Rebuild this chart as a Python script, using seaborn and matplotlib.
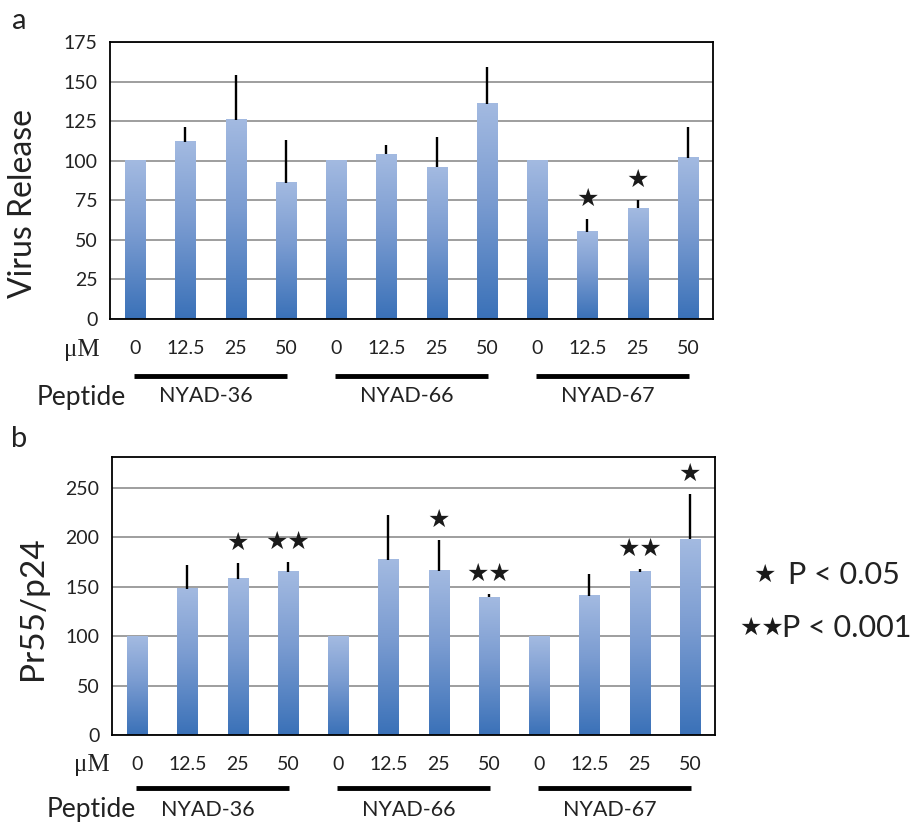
import numpy as np
import pandas as pd
import matplotlib
matplotlib.use("Agg")
import matplotlib.pyplot as plt
import matplotlib.transforms as mtransforms
from matplotlib.colors import LinearSegmentedColormap
import seaborn as sns

# ---- data ----
doses = ["0", "12.5", "25", "50"] * 3
peptides = ["NYAD-36", "NYAD-66", "NYAD-67"]

release_mean = [100, 112, 126, 86, 100, 104, 96, 136, 100, 55, 70, 102]
release_err = [0, 9, 28, 27, 0, 6, 19, 23, 0, 8, 5, 19]
release_sig = ["", "", "", "", "", "", "", "", "", "★", "★", ""]

ratio_mean = [100, 148, 158, 165, 100, 177, 166, 139, 100, 141, 165, 198]
ratio_err = [0, 24, 16, 10, 0, 45, 31, 4, 0, 22, 3, 46]
ratio_sig = ["", "", "★", "★★", "", "", "★", "★★", "", "", "★★", "★"]

sns.set_style("white")
plt.rcParams["font.family"] = ["Lato", "DejaVu Sans"]

W, H = 921, 823
fig = plt.figure(figsize=(W / 100, H / 100), dpi=100)

bar_cmap = LinearSegmentedColormap.from_list(
    "bar", [(0.0, "#3A71B8"), (0.55, "#7B9CD1"), (1.0, "#A3BAE1")])
grad = np.linspace(0, 1, 256).reshape(-1, 1)

INK = "#222222"
STAR = "#1a1a1a"


def px_axes(left, top, right, bottom):
    return fig.add_axes([left / W, 1 - bottom / H, (right - left) / W, (bottom - top) / H])


def fig_text(x, y, s, **kw):
    fig.text(x / W, 1 - y / H, s, **kw)


def panel(ax, mean, err, sig, ylim, yticks, dy_lab, dy_line, dy_pep):
    df = pd.DataFrame({"pos": np.arange(len(mean)), "value": mean})
    sns.barplot(data=df, x="pos", y="value", width=0.4, color="#6F93CC",
                errorbar=None, ax=ax, zorder=2)
    centers = []
    for p in ax.patches:
        x0, w, h = p.get_x(), p.get_width(), p.get_height()
        ax.imshow(grad, extent=[x0, x0 + w, 0, h], origin="lower", aspect="auto",
                  cmap=bar_cmap, interpolation="bicubic", zorder=2)
        p.set_visible(False)
        centers.append(x0 + w / 2)
    centers = np.array(centers)
    mean = np.asarray(mean, float)
    err = np.asarray(err, float)
    has = err > 0
    ax.vlines(centers[has], mean[has], mean[has] + err[has], color="black",
              lw=1.7, zorder=3)
    for c, m, e, s in zip(centers, mean, err, sig):
        if s:
            ax.annotate(s, xy=(c, m + e), xytext=(0, 20), textcoords="offset pixels",
                        ha="center", va="center", fontsize=18, color=STAR,
                        family="DejaVu Sans")

    ax.set_xlim(-0.5, len(mean) - 0.5)
    ax.set_ylim(*ylim)
    ax.set_yticks(yticks)
    ax.set_yticklabels([str(t) for t in yticks], fontsize=14, color=INK)
    ax.yaxis.grid(True, color="#8e8e8e", lw=1.2, zorder=0)
    ax.set_axisbelow(True)
    ax.set_xticks(np.arange(-0.5, len(mean), 1.0))
    ax.set_xticklabels([])
    ax.tick_params(axis="x", direction="out", length=6, width=1, color="#9a9a9a", pad=2)
    ax.tick_params(axis="y", direction="out", length=6, width=1, color="#9a9a9a", pad=3)
    ax.set_xlabel("")
    ax.set_ylabel("")
    for sp in ax.spines.values():
        sp.set_visible(True)
        sp.set_color("black")
        sp.set_linewidth(1.3)

    xtr = ax.get_xaxis_transform()
    lab_tr = mtransforms.offset_copy(xtr, fig=fig, y=-dy_lab, units="dots")
    line_tr = mtransforms.offset_copy(xtr, fig=fig, y=-dy_line, units="dots")
    pep_tr = mtransforms.offset_copy(xtr, fig=fig, y=-dy_pep, units="dots")
    for c, d in zip(centers, doses):
        ax.text(c, 0, d, transform=lab_tr, ha="center", va="center",
                fontsize=14, color=INK)
    for g, name in enumerate(peptides):
        a, b = centers[4 * g], centers[4 * g + 3]
        ax.plot([a - 0.03, b + 0.03], [0, 0], transform=line_tr, color="black",
                lw=3.5, solid_capstyle="butt", clip_on=False)
        ax.text((a + b) / 2 - 0.1, 0, name, transform=pep_tr, ha="center",
                va="center", fontsize=15.5, color=INK)


ax_a = px_axes(110, 42, 713, 319)
panel(ax_a, release_mean, release_err, release_sig, (0, 175),
      [0, 25, 50, 75, 100, 125, 150, 175], 30, 57, 77)

ax_b = px_axes(112, 457, 715, 735)
panel(ax_b, ratio_mean, ratio_err, ratio_sig, (0, 281),
      [0, 50, 100, 150, 200, 250], 30, 53, 75)

# panel letters, axis titles and row captions
fig_text(19, 21, "a", fontsize=21, ha="center", va="center", color=INK)
fig_text(19, 439, "b", fontsize=21, ha="center", va="center", color=INK)
fig_text(23, 204, "Virus Release", fontsize=23, rotation=90, ha="center",
         va="center", color=INK)
fig_text(33, 608, "Pr55/p24", fontsize=24, rotation=90, ha="center",
         va="center", color=INK)
fig_text(100, 350, "μM", fontsize=18, ha="right", va="center",
         family="Liberation Serif", color=INK)
fig_text(110, 765, "μM", fontsize=18, ha="right", va="center",
         family="Liberation Serif", color=INK)
fig_text(37, 397, "Peptide", fontsize=19, ha="left", va="center", color=INK)
fig_text(47, 810, "Peptide", fontsize=19, ha="left", va="center", color=INK)

# significance key
fig_text(765, 575, "★", fontsize=18, ha="center", va="center",
         family="DejaVu Sans", color=STAR)
fig_text(788, 575, "P < 0.05", fontsize=22, ha="left", va="center", color=INK)
fig_text(762, 628, "★★", fontsize=18, ha="center", va="center",
         family="DejaVu Sans", color=STAR)
fig_text(782, 628, "P < 0.001", fontsize=22, ha="left", va="center", color=INK)

fig.savefig("out.png", dpi=100, facecolor="white")
